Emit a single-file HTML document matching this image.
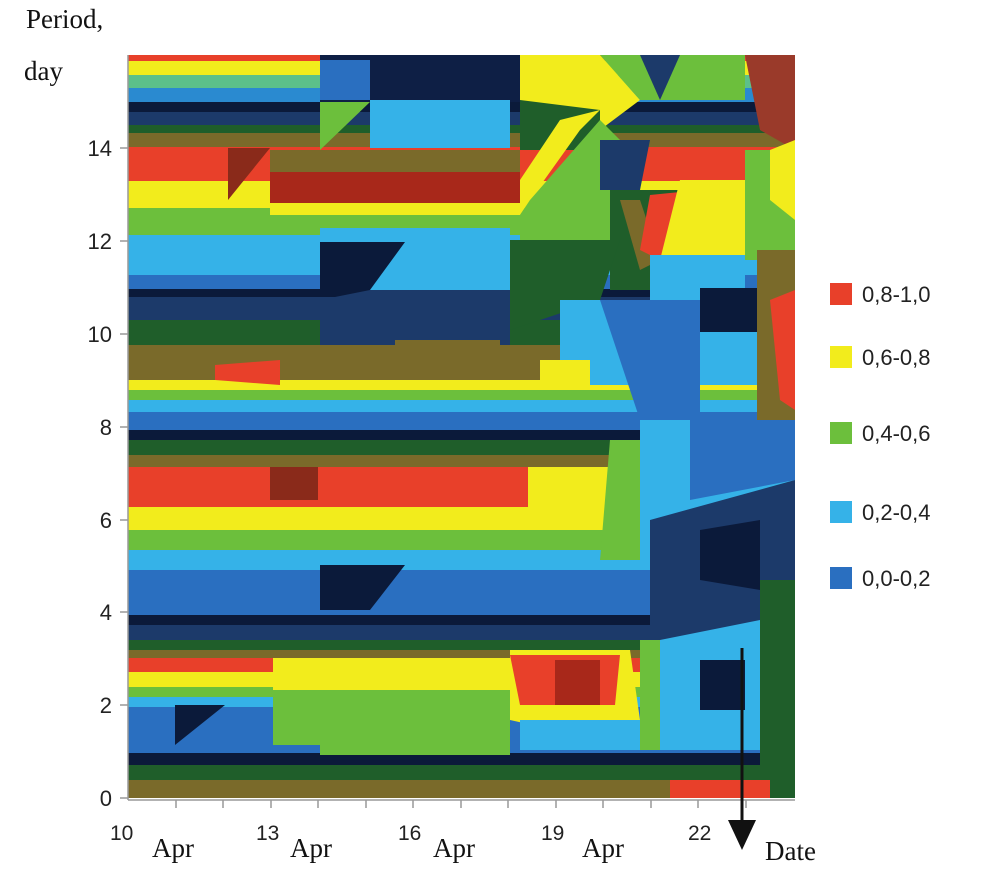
<!DOCTYPE html>
<html><head><meta charset="utf-8"><style>
body{margin:0;background:#fff;}
</style></head><body>
<svg width="1000" height="879" viewBox="0 0 1000 879" xmlns="http://www.w3.org/2000/svg">
<defs><clipPath id="c"><rect x="128" y="55" width="667" height="743"/></clipPath></defs>
<g clip-path="url(#c)">
<rect x="128" y="55" width="667" height="743" fill="#2a6fc0"/>
<rect x="128" y="55" width="667" height="6" fill="#e8402a"/>
<rect x="128" y="61" width="667" height="14" fill="#f2ec1c"/>
<rect x="128" y="75" width="667" height="15" fill="#5cc08a"/>
<rect x="128" y="88" width="667" height="14" fill="#2a8ad0"/>
<rect x="128" y="102" width="667" height="10" fill="#0b1a3a"/>
<rect x="128" y="112" width="667" height="13" fill="#1c3a6a"/>
<rect x="128" y="125" width="667" height="8" fill="#1f5e2a"/>
<rect x="128" y="133" width="667" height="14" fill="#7a6a2a"/>
<rect x="128" y="147" width="667" height="34" fill="#e8402a"/>
<rect x="128" y="181" width="667" height="27" fill="#f2ec1c"/>
<rect x="128" y="208" width="667" height="27" fill="#6cbf3c"/>
<rect x="128" y="235" width="667" height="40" fill="#35b2e8"/>
<rect x="128" y="275" width="667" height="14" fill="#2a6fc0"/>
<rect x="128" y="289" width="667" height="8" fill="#0b1a3a"/>
<rect x="128" y="297" width="667" height="23" fill="#1c3a6a"/>
<rect x="128" y="320" width="667" height="25" fill="#1f5e2a"/>
<rect x="128" y="345" width="667" height="35" fill="#7a6a2a"/>
<rect x="128" y="380" width="667" height="10" fill="#f2ec1c"/>
<rect x="128" y="390" width="667" height="10" fill="#6cbf3c"/>
<rect x="128" y="400" width="667" height="12" fill="#35b2e8"/>
<rect x="128" y="412" width="667" height="18" fill="#2a6fc0"/>
<rect x="128" y="430" width="667" height="10" fill="#0b1a3a"/>
<rect x="128" y="440" width="667" height="15" fill="#1f5e2a"/>
<rect x="128" y="455" width="667" height="12" fill="#7a6a2a"/>
<rect x="128" y="467" width="667" height="40" fill="#e8402a"/>
<rect x="128" y="507" width="667" height="23" fill="#f2ec1c"/>
<rect x="128" y="530" width="667" height="20" fill="#6cbf3c"/>
<rect x="128" y="550" width="667" height="20" fill="#35b2e8"/>
<rect x="128" y="570" width="667" height="45" fill="#2a6fc0"/>
<rect x="128" y="615" width="667" height="10" fill="#0b1a3a"/>
<rect x="128" y="625" width="667" height="15" fill="#1c3a6a"/>
<rect x="128" y="640" width="667" height="10" fill="#1f5e2a"/>
<rect x="128" y="650" width="667" height="8" fill="#7a6a2a"/>
<rect x="128" y="658" width="667" height="14" fill="#e8402a"/>
<rect x="128" y="672" width="667" height="15" fill="#f2ec1c"/>
<rect x="128" y="687" width="667" height="10" fill="#6cbf3c"/>
<rect x="128" y="697" width="667" height="10" fill="#35b2e8"/>
<rect x="128" y="707" width="667" height="46" fill="#2a6fc0"/>
<rect x="128" y="753" width="667" height="12" fill="#0b1a3a"/>
<rect x="128" y="765" width="667" height="15" fill="#1f5e2a"/>
<rect x="128" y="780" width="667" height="18" fill="#7a6a2a"/>
<polygon points="320,55 520,55 520,102 320,102" fill="#0e1f45"/>
<polygon points="320,102 370,102 320,150" fill="#6cbf3c"/>
<polygon points="370,100 510,100 510,148 370,148" fill="#35b2e8"/>
<polygon points="320,60 370,60 370,100 320,100" fill="#2a6fc0"/>
<polygon points="270,150 520,150 520,172 270,172" fill="#7a6a2a"/>
<polygon points="270,172 520,172 520,203 270,203" fill="#a8281a"/>
<polygon points="228,148 270,148 228,200" fill="#8a2a1a"/>
<polygon points="270,203 520,203 520,215 270,215" fill="#f2ec1c"/>
<polygon points="270,215 520,215 520,228 270,228" fill="#6cbf3c"/>
<polygon points="320,228 510,228 510,290 320,290" fill="#35b2e8"/>
<polygon points="320,242 405,242 370,290 320,290" fill="#0b1a3a"/>
<polygon points="370,290 510,290 510,345 320,345 320,300" fill="#1c3a6a"/>
<polygon points="395,340 500,340 500,378 395,378" fill="#7a6a2a"/>
<polygon points="215,365 280,360 280,385 215,380" fill="#e8402a"/>
<polygon points="520,55 600,55 640,100 600,130 520,120" fill="#f2ec1c"/>
<polygon points="600,55 745,55 745,100 640,100" fill="#6cbf3c"/>
<polygon points="640,55 680,55 660,100" fill="#1c3a6a"/>
<polygon points="745,55 795,55 795,150 760,130" fill="#9a3a2a"/>
<polygon points="520,100 600,110 600,150 520,150" fill="#1f5e2a"/>
<polygon points="600,110 580,130 530,200 520,215 520,180 560,120" fill="#f2ec1c"/>
<polygon points="530,200 600,120 620,140 610,240 520,240 520,215" fill="#6cbf3c"/>
<polygon points="600,140 650,140 640,190 600,190" fill="#1c3a6a"/>
<polygon points="610,190 680,190 700,290 610,290" fill="#1f5e2a"/>
<polygon points="620,200 640,200 660,260 640,270" fill="#7a6a2a"/>
<polygon points="650,195 700,190 660,260 640,250" fill="#e8402a"/>
<polygon points="680,180 745,180 745,260 660,260" fill="#f2ec1c"/>
<polygon points="745,150 795,150 795,260 745,260" fill="#6cbf3c"/>
<polygon points="770,150 795,140 795,220 770,200" fill="#f2ec1c"/>
<polygon points="650,255 745,255 745,300 650,300" fill="#35b2e8"/>
<polygon points="700,288 757,288 757,332 700,332" fill="#0b1a3a"/>
<polygon points="700,332 757,332 757,385 700,385" fill="#35b2e8"/>
<polygon points="757,250 795,250 795,420 757,420" fill="#7a6a2a"/>
<polygon points="770,300 795,290 795,410 780,400" fill="#e8402a"/>
<polygon points="510,240 620,240 600,300 510,330" fill="#1f5e2a"/>
<polygon points="560,300 650,300 650,385 560,385" fill="#35b2e8"/>
<polygon points="540,360 590,360 590,390 540,390" fill="#f2ec1c"/>
<polygon points="600,300 700,300 700,420 640,420" fill="#2a6fc0"/>
<polygon points="270,467 318,467 318,500 270,500" fill="#8a2a1a"/>
<polygon points="528,467 610,467 610,530 528,530" fill="#f2ec1c"/>
<rect x="640" y="440" width="155" height="90" fill="#35b2e8"/>
<polygon points="610,440 650,440 640,560 600,560" fill="#6cbf3c"/>
<polygon points="640,420 690,420 700,560 640,560" fill="#35b2e8"/>
<polygon points="650,520 795,480 795,640 650,660" fill="#1c3a6a"/>
<polygon points="700,530 760,520 760,590 700,580" fill="#0b1a3a"/>
<polygon points="690,420 795,420 795,480 690,500" fill="#2a6fc0"/>
<polygon points="320,565 405,565 370,610 320,610" fill="#0b1a3a"/>
<polygon points="273,658 510,658 510,690 273,690" fill="#f2ec1c"/>
<polygon points="320,690 510,690 510,755 320,755" fill="#6cbf3c"/>
<polygon points="273,690 320,690 320,745 273,745" fill="#6cbf3c"/>
<polygon points="510,650 630,650 640,720 600,740 510,720" fill="#f2ec1c"/>
<polygon points="510,655 620,655 615,705 520,705" fill="#e8402a"/>
<polygon points="555,660 600,660 600,705 555,705" fill="#a8281a"/>
<polygon points="520,720 640,720 640,750 520,750" fill="#35b2e8"/>
<polygon points="640,640 660,640 660,750 640,750" fill="#6cbf3c"/>
<polygon points="660,640 760,620 760,750 660,750" fill="#35b2e8"/>
<polygon points="700,660 745,660 745,710 700,710" fill="#0b1a3a"/>
<polygon points="760,580 795,580 795,798 760,798" fill="#1f5e2a"/>
<polygon points="670,780 770,780 770,798 670,798" fill="#e8402a"/>
<polygon points="175,705 225,705 175,745" fill="#0b1a3a"/>
</g>
<line x1="128" y1="55" x2="128" y2="800" stroke="#999" stroke-width="1.5"/>
<line x1="128" y1="800" x2="795" y2="800" stroke="#999" stroke-width="1.5"/>
<g stroke="#999" stroke-width="1.5">
<line x1="120" y1="798" x2="128" y2="798"/><line x1="120" y1="705" x2="128" y2="705"/>
<line x1="120" y1="612" x2="128" y2="612"/><line x1="120" y1="520" x2="128" y2="520"/>
<line x1="120" y1="427" x2="128" y2="427"/><line x1="120" y1="334" x2="128" y2="334"/>
<line x1="120" y1="241" x2="128" y2="241"/><line x1="120" y1="148" x2="128" y2="148"/>
<line x1="176" y1="800" x2="176" y2="808"/><line x1="223" y1="800" x2="223" y2="808"/>
<line x1="271" y1="800" x2="271" y2="808"/><line x1="318" y1="800" x2="318" y2="808"/>
<line x1="366" y1="800" x2="366" y2="808"/><line x1="413" y1="800" x2="413" y2="808"/>
<line x1="461" y1="800" x2="461" y2="808"/><line x1="508" y1="800" x2="508" y2="808"/>
<line x1="556" y1="800" x2="556" y2="808"/><line x1="603" y1="800" x2="603" y2="808"/>
<line x1="651" y1="800" x2="651" y2="808"/><line x1="698" y1="800" x2="698" y2="808"/>
<line x1="746" y1="800" x2="746" y2="808"/>
</g>
<g font-family="Liberation Sans,sans-serif" font-size="22" fill="#222" text-anchor="end">
<text x="112" y="806">0</text><text x="112" y="713">2</text><text x="112" y="620">4</text>
<text x="112" y="528">6</text><text x="112" y="435">8</text><text x="112" y="342">10</text>
<text x="112" y="249">12</text><text x="112" y="156">14</text>
</g>
<g font-family="Liberation Serif,serif" font-size="27" fill="#111">
<text x="26" y="28">Period,</text><text x="24" y="80">day</text>
<text x="152" y="857">Apr</text><text x="290" y="857">Apr</text>
<text x="433" y="857">Apr</text><text x="582" y="857">Apr</text>
<text x="765" y="860">Date</text>
</g>
<g font-family="Liberation Sans,sans-serif" font-size="21" fill="#222">
<text x="110" y="840">10</text><text x="256" y="840">13</text>
<text x="398" y="840">16</text><text x="541" y="840">19</text><text x="688" y="840">22</text>
</g>
<line x1="742" y1="648" x2="742" y2="825" stroke="#111" stroke-width="3"/>
<polygon points="728,820 756,820 742,850" fill="#111"/>
<rect x="830" y="283" width="22" height="22" fill="#e8402a"/>
<rect x="830" y="346" width="22" height="22" fill="#f2ec1c"/>
<rect x="830" y="422" width="22" height="22" fill="#6cbf3c"/>
<rect x="830" y="501" width="22" height="22" fill="#35b2e8"/>
<rect x="830" y="567" width="22" height="22" fill="#2a6fc0"/>
<g font-family="Liberation Sans,sans-serif" font-size="22" fill="#222">
<text x="862" y="302">0,8-1,0</text><text x="862" y="365">0,6-0,8</text>
<text x="862" y="441">0,4-0,6</text><text x="862" y="520">0,2-0,4</text>
<text x="862" y="586">0,0-0,2</text>
</g>
</svg>
</body></html>
